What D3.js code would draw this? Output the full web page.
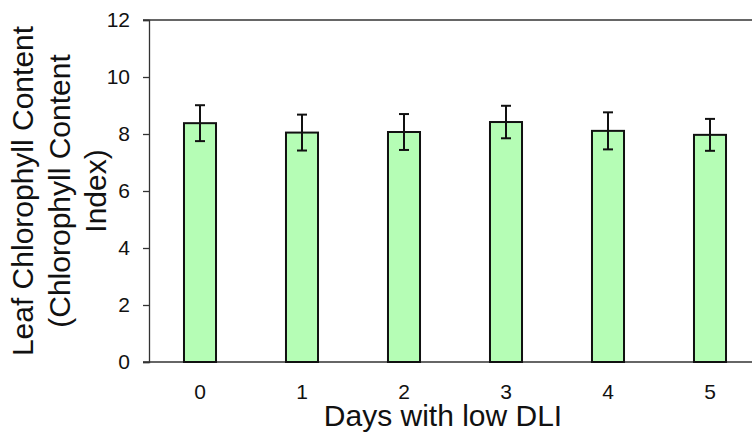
<!DOCTYPE html>
<html>
<head>
<meta charset="utf-8">
<script src="https://cdn.jsdelivr.net/npm/d3@7"></script>
<style>
  body { margin: 0; background: #fff; }
  svg { display: block; font-family: Arial, "Liberation Sans", sans-serif; }
</style>
</head>
<body>
<script>
// data
let days = ['0', '1', '2', '3', '4', '5'];
let chl = [8.38, 8.05, 8.07, 8.42, 8.11, 7.97];
let err = [0.63, 0.63, 0.63, 0.57, 0.65, 0.56];
let yTicks = [0, 2, 4, 6, 8, 10, 12];

let width = 752, height = 434;
let margin = { top: 20, left: 149, bottom: 72 };
let font = 'Arial, "Liberation Sans", sans-serif';

let svg = d3.select('body').append('svg')
  .attr('width', width).attr('height', height);

// band runs a bit past the right edge like the original (clipped)
let x = d3.scaleBand()
  .domain(days)
  .range([margin.left, 761])
  .paddingInner(0.686)
  .paddingOuter(0.343);

let y = d3.scaleLinear()
  .domain([0, 12])
  .range([height - margin.bottom, margin.top]);

// frame lines top and bottom
svg.append('g').selectAll('line')
  .data([0, 12])
  .enter().append('line')
  .attr('x1', margin.left - 6).attr('x2', width)
  .attr('y1', d => y(d)).attr('y2', d => y(d))
  .attr('stroke', '#333').attr('stroke-width', 1.3);

// y axis
let yAxis = svg.append('g')
  .attr('transform', `translate(${margin.left},0)`)
  .attr('font-size', 21)
  .call(d3.axisLeft(y).tickValues(yTicks).tickSize(6).tickPadding(13));
yAxis.attr('font-size', 21).attr('font-family', font);
yAxis.selectAll('line').attr('stroke', '#333').attr('stroke-width', 1.3);
yAxis.select('.domain').attr('stroke', '#333').attr('stroke-width', 1.3);
yAxis.selectAll('text').style('font-size', '21px').attr('fill', '#111');

// x axis labels only
let xAxis = svg.append('g')
  .attr('transform', `translate(0,${y(0)})`)
  .call(d3.axisBottom(x).tickSize(0).tickPadding(22));
xAxis.attr('font-size', 21).attr('font-family', font);
xAxis.select('.domain').remove();
xAxis.selectAll('text').style('font-size', '21px').attr('fill', '#111');

// bars
svg.append('g').selectAll('rect')
  .data(chl)
  .enter().append('rect')
  .attr('x', (d, i) => x(days[i]))
  .attr('y', d => y(d))
  .attr('width', x.bandwidth())
  .attr('height', d => y(0) - y(d))
  .attr('fill', '#b5fdb5')
  .attr('stroke', '#111')
  .attr('stroke-width', 2);

// error bars
let eb = svg.append('g').attr('stroke', '#111').attr('stroke-width', 2);
chl.forEach((v, i) => {
  let cx = x(days[i]) + x.bandwidth() / 2;
  eb.append('line').attr('x1', cx).attr('x2', cx)
    .attr('y1', y(v - err[i])).attr('y2', y(v + err[i]));
  [v - err[i], v + err[i]].forEach(e => {
    eb.append('line').attr('x1', cx - 5).attr('x2', cx + 5)
      .attr('y1', y(e)).attr('y2', y(e));
  });
});

// axis titles
svg.append('text')
  .attr('x', 443).attr('y', 426)
  .attr('text-anchor', 'middle')
  .style('font-size', '30px').attr('fill', '#111')
  .text('Days with low DLI');

let titleLines = ['Leaf Chlorophyll Content', '(Chlorophyll Content', 'Index)'];
let yMid = (y(0) + y(12)) / 2;
svg.append('g').selectAll('text')
  .data(titleLines)
  .enter().append('text')
  .attr('transform', (d, i) => `translate(${33 + i * 36.5},${yMid}) rotate(-90)`)
  .attr('text-anchor', 'middle')
  .style('font-size', '30px').attr('fill', '#111')
  .text(d => d);
</script>
</body>
</html>
